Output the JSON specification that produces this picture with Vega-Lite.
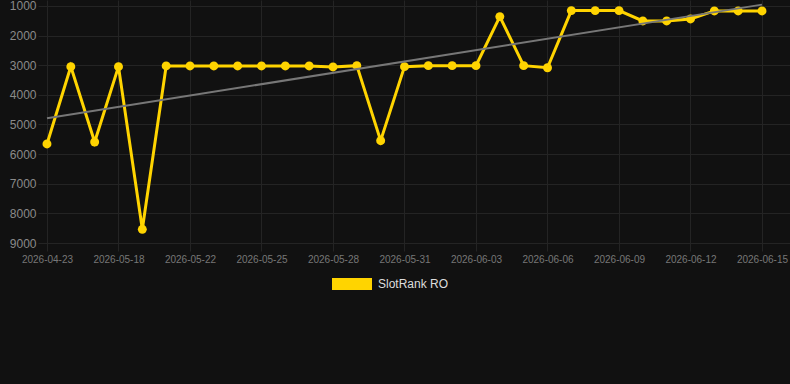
{
  "$schema": "https://vega.github.io/schema/vega-lite/v6.json",
  "autosize": {"type": "none"},
  "width": 752,
  "height": 243,
  "padding": {"left": 38, "top": 0, "right": 0, "bottom": 141},
  "background": "#111111",
  "config": {
    "view": {"stroke": null},
    "font": "Liberation Sans",
    "axis": {"gridColor": "#242424", "tickColor": "#242424", "domain": false, "title": null}
  },
  "data": {
    "values": [
      {"date": "2026-04-23", "rank": 5658, "trend": 4791},
      {"date": "2026-05-16", "rank": 3049},
      {"date": "2026-05-17", "rank": 5591},
      {"date": "2026-05-18", "rank": 3049},
      {"date": "2026-05-19", "rank": 8538},
      {"date": "2026-05-20", "rank": 3025},
      {"date": "2026-05-22", "rank": 3025},
      {"date": "2026-05-23", "rank": 3025},
      {"date": "2026-05-24", "rank": 3025},
      {"date": "2026-05-25", "rank": 3025},
      {"date": "2026-05-26", "rank": 3025},
      {"date": "2026-05-27", "rank": 3025},
      {"date": "2026-05-28", "rank": 3059},
      {"date": "2026-05-29", "rank": 3015},
      {"date": "2026-05-30", "rank": 5547},
      {"date": "2026-05-31", "rank": 3049},
      {"date": "2026-06-01", "rank": 3015},
      {"date": "2026-06-02", "rank": 3015},
      {"date": "2026-06-03", "rank": 3015},
      {"date": "2026-06-04", "rank": 1361},
      {"date": "2026-06-05", "rank": 3015},
      {"date": "2026-06-06", "rank": 3085},
      {"date": "2026-06-07", "rank": 1158},
      {"date": "2026-06-08", "rank": 1158},
      {"date": "2026-06-09", "rank": 1158},
      {"date": "2026-06-10", "rank": 1506},
      {"date": "2026-06-11", "rank": 1506},
      {"date": "2026-06-12", "rank": 1439},
      {"date": "2026-06-13", "rank": 1169},
      {"date": "2026-06-14", "rank": 1169},
      {"date": "2026-06-15", "rank": 1169, "trend": 956}
    ]
  },
  "encoding": {
    "x": {
      "field": "date",
      "type": "ordinal",
      "sort": null,
      "scale": {
        "type": "point",
        "padding": 0.776,
        "align": 0.243,
        "domain": ["2026-04-23", "2026-05-16", "2026-05-17", "2026-05-18", "2026-05-19", "2026-05-20", "2026-05-22", "2026-05-23", "2026-05-24", "2026-05-25", "2026-05-26", "2026-05-27", "2026-05-28", "2026-05-29", "2026-05-30", "2026-05-31", "2026-06-01", "2026-06-02", "2026-06-03", "2026-06-04", "2026-06-05", "2026-06-06", "2026-06-07", "2026-06-08", "2026-06-09", "2026-06-10", "2026-06-11", "2026-06-12", "2026-06-13", "2026-06-14", "2026-06-15"]
      },
      "axis": {
        "values": ["2026-04-23", "2026-05-18", "2026-05-22", "2026-05-25", "2026-05-28", "2026-05-31", "2026-06-03", "2026-06-06", "2026-06-09", "2026-06-12", "2026-06-15"],
        "labelAngle": 0,
        "labelFontSize": 10,
        "labelColor": "#777777",
        "tickSize": 8,
        "labelPadding": 3,
        "grid": true
      }
    },
    "y": {
      "type": "quantitative",
      "scale": {"domain": [800, 9000], "reverse": true, "nice": false, "zero": false},
      "axis": {
        "values": [1000, 2000, 3000, 4000, 5000, 6000, 7000, 8000, 9000],
        "format": "d",
        "labelFontSize": 12,
        "labelColor": "#8a8a8a",
        "ticks": false,
        "labelPadding": 2,
        "grid": true
      }
    }
  },
  "layer": [
    {
      "mark": {"type": "line", "strokeWidth": 3, "point": {"filled": true, "size": 80, "opacity": 1}},
      "encoding": {
        "y": {"field": "rank"},
        "color": {
          "datum": "SlotRank RO",
          "type": "nominal",
          "scale": {"range": ["#FFD400"]},
          "legend": {
            "title": null,
            "orient": "none",
            "legendX": 294,
            "legendY": 264,
            "symbolType": "M-1,-0.3H1V0.3H-1Z",
            "symbolSize": 1600,
            "symbolStrokeWidth": 0,
            "symbolOpacity": 1,
            "labelFontSize": 12,
            "labelColor": "#dddddd",
            "labelOffset": 6
          }
        }
      }
    },
    {
      "transform": [{"filter": "datum.trend != null"}],
      "mark": {"type": "line", "color": "#777777", "strokeWidth": 2},
      "encoding": {
        "y": {"field": "trend"}
      }
    }
  ]
}
